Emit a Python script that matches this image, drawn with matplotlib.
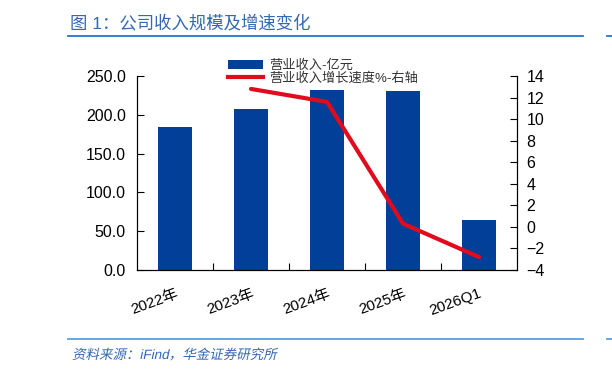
import matplotlib.pyplot as plt
from matplotlib.lines import Line2D
from matplotlib.textpath import TextPath
from matplotlib.patches import PathPatch
from matplotlib.font_manager import FontProperties
from matplotlib.transforms import Affine2D

plt.rcParams['font.family'] = ['Liberation Sans', 'Noto Sans CJK SC']

categories = ['2022年', '2023年', '2024年', '2025年', '2026Q1']
revenue = [184.3, 207.3, 231.5, 231.0, 64.4]
growth_x = ['2023年', '2024年', '2025年', '2026Q1']
growth = [12.8, 11.6, 0.3, -2.8]

W, H = 612, 376
fig = plt.figure(figsize=(W / 100, H / 100), dpi=100)

ax = fig.add_axes([137 / W, 1 - 270 / H, 380 / W, 194 / H])
x = list(range(len(categories)))
bars = ax.bar(x, revenue, width=0.45, color='#023F98', zorder=2)
ax.set_xlim(-0.5, len(categories) - 0.5)
ax.set_ylim(0, 250)
ax.set_yticks([0, 50, 100, 150, 200, 250])
ax.set_yticklabels([f'{v:.1f}' for v in [0, 50, 100, 150, 200, 250]])
ax.set_xticks([i + 0.5 for i in range(len(categories) - 1)])
ax.set_xticklabels([])
ax.set_xticks(x, minor=True)
ax.set_xticklabels(categories, minor=True, rotation=20, ha='right', rotation_mode='anchor')
ax.tick_params(axis='x', which='minor', length=0, pad=12, labelsize=11)
ax.tick_params(axis='x', which='major', direction='in', length=5)
ax.tick_params(axis='y', direction='in', length=5, labelsize=11.5, pad=8)
ax.spines['top'].set_visible(False)

ax2 = ax.twinx()
gx = [categories.index(c) for c in growth_x]
ax2.plot(gx, growth, color='#E10B1E', lw=3, solid_capstyle='round', zorder=3)
ax2.set_ylim(-4, 14)
ax2.set_yticks(range(-4, 15, 2))
ax2.tick_params(axis='y', direction='in', length=5, labelsize=11.5, pad=7)
ax2.spines['top'].set_visible(False)

handles = [bars, Line2D([], [], color='#E10B1E', lw=3)]
labels = ['营业收入-亿元', '营业收入增长速度%-右轴']
fig.legend(handles, labels, loc='upper left', bbox_to_anchor=(219 / W, 1 - 50 / H),
           frameon=False, fontsize=9.5, handlelength=2.6, labelspacing=0.05,
           handletextpad=0.5, labelcolor='#333333', borderpad=0.2)

fig.text(70 / W, 1 - 23 / H, '图 1：公司收入规模及增速变化', color='#3468B0',
         fontsize=12.5, va='center', ha='left')
fig.add_artist(Line2D([68 / W, 583 / W], [1 - 36 / H, 1 - 36 / H], color='#1F78CC', lw=1.3))
fig.add_artist(Line2D([607 / W, 1], [1 - 36 / H, 1 - 36 / H], color='#1F78CC', lw=1.3))
fig.add_artist(Line2D([68 / W, 583 / W], [1 - 339 / H, 1 - 339 / H], color='#5B9FDB', lw=1.3))
fig.add_artist(Line2D([607 / W, 1], [1 - 339 / H, 1 - 339 / H], color='#5B9FDB', lw=1.3))

# italic source line drawn as a slanted text path
src = '资料来源：iFind，华金证券研究所'
tp = TextPath((0, 0), src, size=13.5,
              prop=FontProperties(family=['Liberation Sans', 'Noto Sans CJK SC']))
tr = Affine2D().skew_deg(12, 0).translate(72, H - 359)
fig.add_artist(PathPatch(tr.transform_path(tp), color='#3468B0', lw=0,
                         transform=fig.dpi_scale_trans.frozen() + Affine2D().scale(1 / 100)))

fig.savefig('out.png', dpi=100)
